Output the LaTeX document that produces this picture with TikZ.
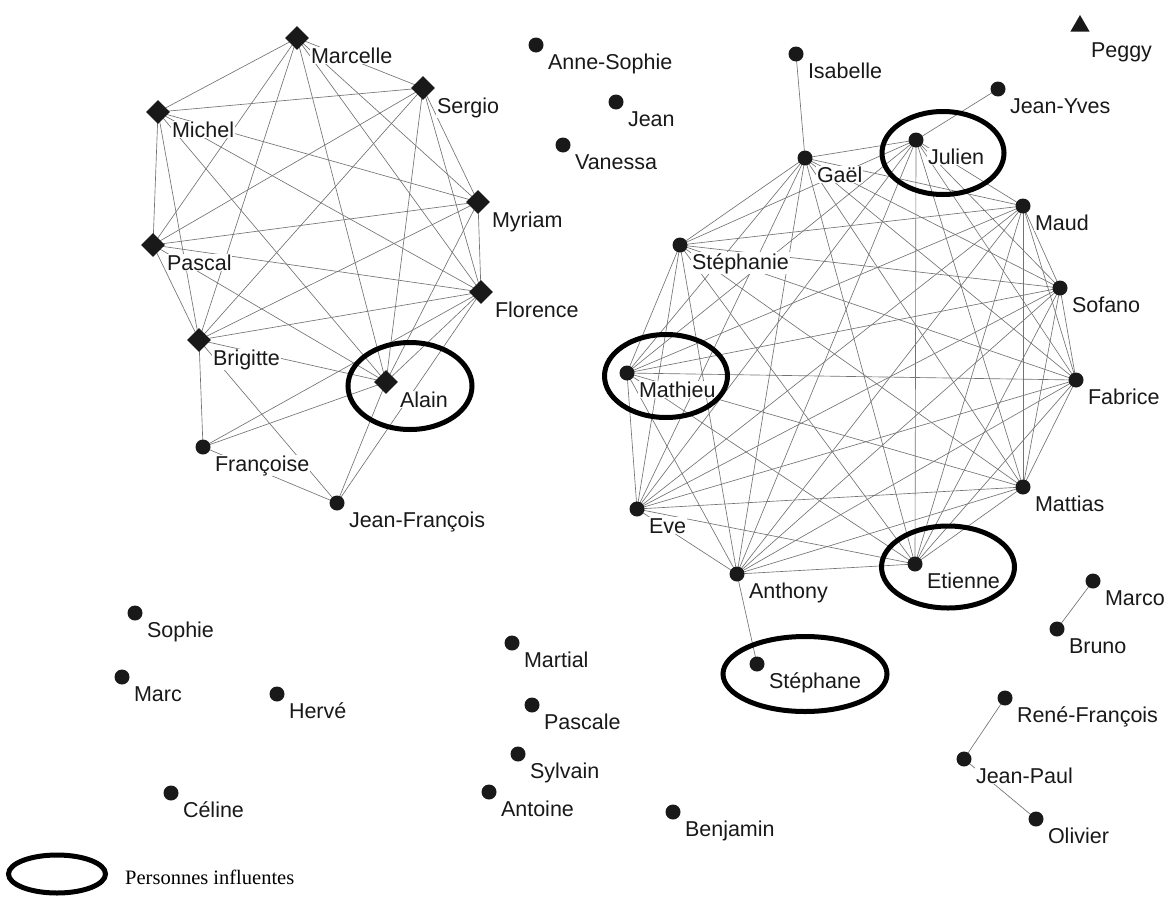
\documentclass[tikz,border=0pt]{standalone}
\usepackage{fontspec}
\setmainfont{Liberation Sans}
\newfontfamily\legendfont{Liberation Serif}
\usetikzlibrary{shapes.geometric}
\pgfdeclarelayer{background}
\pgfsetlayers{background,main}
\tikzset{
  dot/.style={circle,fill=black!90,minimum size=15pt,inner sep=0pt},
  dia/.style={diamond,fill=black!90,minimum size=24pt,inner sep=0pt},
  tri/.style={regular polygon,regular polygon sides=3,fill=black!90,minimum size=22pt,inner sep=0pt},
  lbl/.style={anchor=base west,fill=white,inner sep=0.8pt,font=\fontsize{21.5}{24}\selectfont,text=black!90},
  edge/.style={draw=black!55,line width=0.65pt},
  infl/.style={draw=black,line width=5pt},
}
\newcommand{\person}[5]{% style, name, x, y, text
  \node[#1] (#2) at (#3,#4) {};
  \node[lbl] (#2-l) at (#3+11,#4+24) {#5};
}
\newcommand{\personD}[4]{%
  \node[dia] (#1) at (#2,#3) {};
  \node[lbl] (#1-l) at (#2+13,#3+25) {#4};
}
\begin{document}
\begin{tikzpicture}[x=1pt,y=-1pt]
\useasboundingbox (0,0) rectangle (1164,897);
% left cluster
\personD{Marcelle}{297}{38}{Marcelle}
\personD{Sergio}{423}{88}{Sergio}
\personD{Michel}{158}{112}{Michel}
\personD{Myriam}{478}{202}{Myriam}
\personD{Pascal}{153}{245}{Pascal}
\personD{Florence}{481}{292}{Florence}
\personD{Brigitte}{199}{340}{Brigitte}
\personD{Alain}{386}{382}{Alain}
\person{dot}{Francoise}{203}{447}{Françoise}
\person{dot}{JeanFrancois}{337}{503}{Jean-François}
% isolated top
\person{dot}{AnneSophie}{536}{45}{Anne-Sophie}
\person{dot}{Jean}{616}{102}{Jean}
\person{dot}{Vanessa}{563}{145}{Vanessa}
\node[tri] (Peggy) at (1080,26) {};
\node[lbl] (Peggy-l) at (1090,57) {Peggy};
% right cluster
\person{dot}{Isabelle}{796}{54}{Isabelle}
\person{dot}{JeanYves}{998}{89}{Jean-Yves}
\person{dot}{Julien}{916}{140}{Julien}
\person{dot}{Gael}{805}{158}{Gaël}
\person{dot}{Maud}{1023}{206}{Maud}
\person{dot}{Stephanie}{680}{245}{Stéphanie}
\person{dot}{Sofano}{1060}{288}{Sofano}
\person{dot}{Mathieu}{627}{373}{Mathieu}
\person{dot}{Fabrice}{1076}{380}{Fabrice}
\person{dot}{Eve}{637}{509}{Eve}
\person{dot}{Mattias}{1023}{487}{Mattias}
\person{dot}{Etienne}{915}{564}{Etienne}
\person{dot}{Anthony}{737}{574}{Anthony}
\person{dot}{Stephane}{757}{664}{Stéphane}
% bottom
\person{dot}{Sophie}{135}{613}{Sophie}
\person{dot}{Marc}{122}{677}{Marc}
\person{dot}{Herve}{277}{694}{Hervé}
\person{dot}{Celine}{171}{793}{Céline}
\person{dot}{Martial}{512}{643}{Martial}
\person{dot}{Pascale}{532}{705}{Pascale}
\person{dot}{Sylvain}{518}{754}{Sylvain}
\person{dot}{Antoine}{489}{792}{Antoine}
\person{dot}{Benjamin}{673}{812}{Benjamin}
\person{dot}{Marco}{1093}{581}{Marco}
\person{dot}{Bruno}{1057}{629}{Bruno}
\person{dot}{ReneFrancois}{1005}{698}{René-François}
\person{dot}{JeanPaul}{964}{759}{Jean-Paul}
\person{dot}{Olivier}{1036}{819}{Olivier}
% edges
\begin{pgfonlayer}{background}
\foreach \a [count=\i] in {Marcelle,Sergio,Michel,Myriam,Pascal,Florence,Brigitte,Alain}{
  \foreach \b [count=\j] in {Marcelle,Sergio,Michel,Myriam,Pascal,Florence,Brigitte,Alain}{
    \ifnum\i<\j \draw[edge] (\a.center) -- (\b.center); \fi
  }
}
\foreach \a/\b in {Francoise/Brigitte,Francoise/Alain,Francoise/Florence,Francoise/JeanFrancois,
  JeanFrancois/Brigitte,JeanFrancois/Alain,JeanFrancois/Florence}
  \draw[edge] (\a.center) -- (\b.center);
\foreach \a [count=\i] in {Gael,Julien,Maud,Stephanie,Sofano,Mathieu,Fabrice,Eve,Mattias,Anthony,Etienne}{
  \foreach \b [count=\j] in {Gael,Julien,Maud,Stephanie,Sofano,Mathieu,Fabrice,Eve,Mattias,Anthony,Etienne}{
    \ifnum\i<\j \draw[edge] (\a.center) -- (\b.center); \fi
  }
}
\foreach \a/\b in {Isabelle/Gael,JeanYves/Julien,Anthony/Stephane,Marco/Bruno,ReneFrancois/JeanPaul,JeanPaul/Olivier}
  \draw[edge] (\a.center) -- (\b.center);
\end{pgfonlayer}
% influential
\node[infl,ellipse,minimum width=124pt,minimum height=87pt,inner sep=0pt] (E1) at (410,386) {};
\node[infl,ellipse,minimum width=122pt,minimum height=83pt,inner sep=0pt] (E2) at (943,153) {};
\node[infl,ellipse,minimum width=123pt,minimum height=83pt,inner sep=0pt] (E3) at (666,376) {};
\node[infl,ellipse,minimum width=133pt,minimum height=82pt,inner sep=0pt] (E4) at (948,567) {};
\node[infl,ellipse,minimum width=164pt,minimum height=75pt,inner sep=0pt] (E5) at (805,674) {};
% legend
\node[infl,ellipse,minimum width=97pt,minimum height=38pt,inner sep=0pt] (LegE) at (57,874) {};
\node[anchor=base west,inner sep=0pt,font=\legendfont\fontsize{20.5}{24}\selectfont] (LegT) at (125,884) {Personnes influentes};
\end{tikzpicture}
\end{document}
